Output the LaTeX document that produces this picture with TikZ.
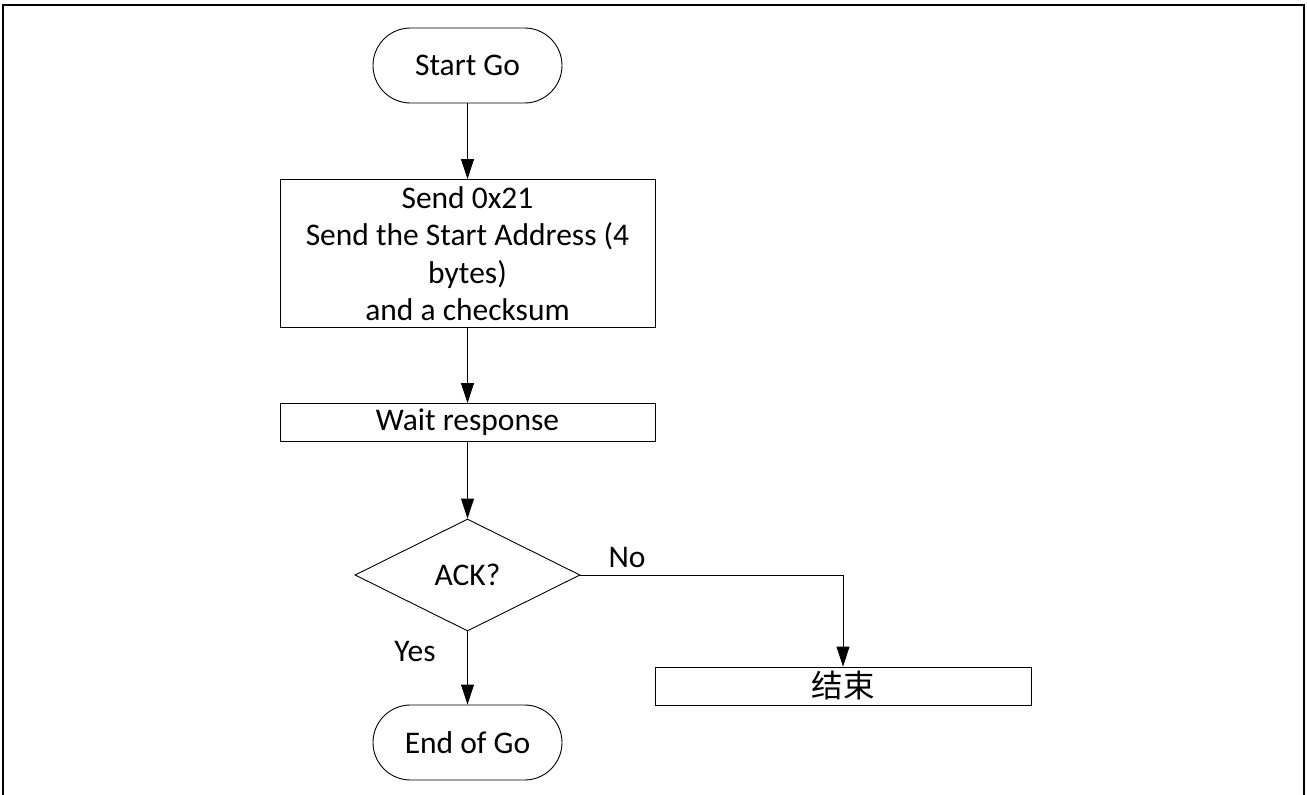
\documentclass[tikz,border=0pt]{standalone}
\usepackage{fontspec}
\setmainfont{Carlito}
\newfontfamily\cjk{Noto Sans CJK SC}
\usetikzlibrary{shapes.geometric,arrows.meta}
\tikzset{
  base/.style={draw=black, line width=0.9pt, fill=white, font=\fontsize{31.5}{37.5}\selectfont, align=center, inner sep=0pt},
  terminal/.style={base, minimum width=189pt, minimum height=75pt, rounded corners=37.5pt},
  procbox/.style={base, minimum width=375pt},
  decision/.style={base, diamond, minimum width=225pt, minimum height=112pt},
  flow/.style={draw=black, line width=0.9pt, -{Triangle[length=20pt,width=13pt]}},
  link/.style={draw=black, line width=0.9pt},
  lbl/.style={font=\fontsize{31.5}{37}\selectfont, inner sep=0pt}
}
\begin{document}
\begin{tikzpicture}[x=1pt,y=-1pt]
  \useasboundingbox[fill=white] (0,0) rectangle (1307,795);
  % outer frame, open at the bottom edge of the page
  \draw[line width=2.8pt] (3,820) -- (3,5) -- (1304,5) -- (1304,820);

  \node[terminal] (start) at (467.5,65.5) {Start Go};
  \node[procbox, minimum height=148pt] (send) at (467.5,253.5)
    {Send 0x21\\Send the Start Address (4\\bytes)\\and a checksum};
  \node[procbox, minimum height=38pt] (wait) at (467.5,422.5) {Wait response};
  \node[decision] (ack) at (467.5,575) {ACK?};
  \node[terminal] (stop) at (467.5,742.5) {End of Go};
  \node[procbox, minimum width=376pt, minimum height=38pt] (fin) at (843,686) {\cjk 结束};

  \draw[flow] (start) -- (send);
  \draw[flow] (send) -- (wait);
  \draw[flow] (wait) -- (ack);
  \draw[flow] (ack) -- (stop);
  \coordinate (turn) at (843,575);
  \draw[link] (ack.east) -- (turn);
  \draw[flow] (turn) -- (fin.north);

  \node[lbl] (yes) at (415,652) {Yes};
  \node[lbl] (no) at (627,557) {No};
\end{tikzpicture}
\end{document}
